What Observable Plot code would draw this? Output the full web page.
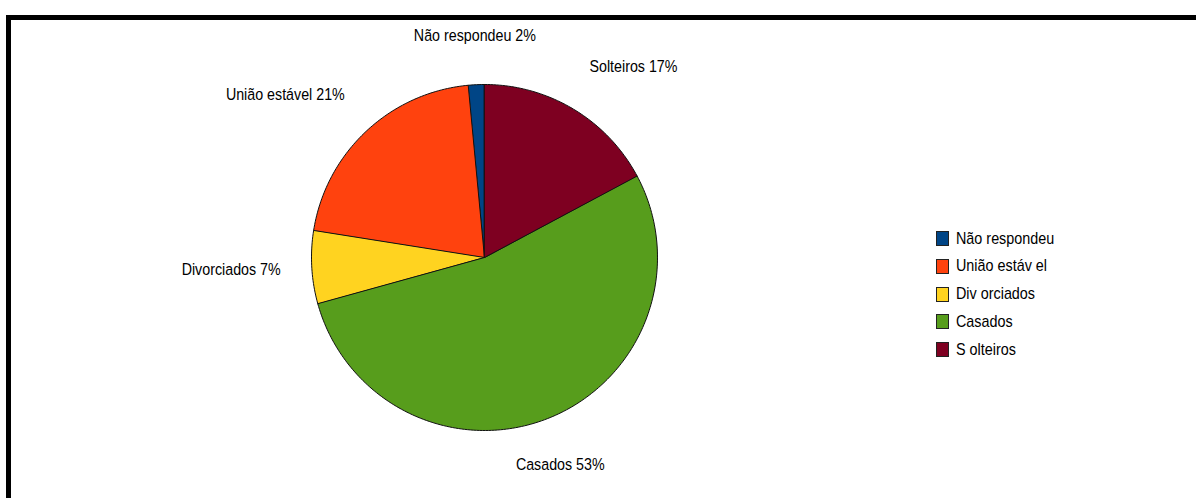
<!DOCTYPE html>
<html><head><meta charset="utf-8">
<script src="https://cdn.jsdelivr.net/npm/d3@7"></script>
<script src="https://cdn.jsdelivr.net/npm/@observablehq/plot@0.6"></script>
<style>
body{margin:0;background:#fff;width:1196px;height:498px;overflow:hidden;position:relative;font-family:"Liberation Sans",Arial,sans-serif;}
#chart{position:absolute;left:0;top:0;}
#border{position:absolute;left:6px;top:15px;right:0;bottom:0;border-top:5px solid #000;border-left:5px solid #000;pointer-events:none;}
#legend{position:absolute;left:936px;top:231px;}
.row{position:absolute;left:0;height:15px;display:flex;align-items:center;white-space:nowrap;font-size:17px;color:#000;}
.sw{width:11px;height:13px;border:1px solid #222;margin-right:7px;flex:none;}
.row span{display:inline-block;transform:scaleX(0.845);transform-origin:0 50%;}
</style></head><body>
<div id="chart"></div><div id="legend"></div><div id="border"></div>
<script>
const categories = ["Não respondeu","União estável","Divorciados","Casados","Solteiros"];
const shares = [1.5, 21.0, 6.8, 53.5, 17.2];
const labelPercents = ["2%","21%","7%","53%","17%"];
const legendLabels = ["Não respondeu","União estáv el","Div orciados","Casados","S olteiros"];
const colors = ["#004586","#ff420e","#ffd320","#579d1c","#7e0021"];

const arcs = d3.pie().sort(null).startAngle(0).endAngle(-2*Math.PI)(shares);

const features = arcs.map((a,i)=>{
  const n = Math.max(2, Math.ceil(Math.abs(a.endAngle-a.startAngle)/(Math.PI/180)));
  const ring=[[0,0]];
  for(let k=0;k<=n;k++){const t=a.startAngle+(a.endAngle-a.startAngle)*k/n; ring.push([Math.sin(t), -Math.cos(t)]);}
  ring.push([0,0]);
  return {type:"Feature", properties:{name:categories[i]}, geometry:{type:"Polygon", coordinates:[ring]}};
});

const labels = arcs.map((a,i)=>{
  const m=(a.startAngle+a.endAngle)/2, sx=Math.sin(m), cy=Math.cos(m);
  return {text:`${categories[i]} ${labelPercents[i]}`, x:1.18*sx, y:-1.25*cy,
    h: Math.abs(sx)<0.4?"middle":(sx<0?"end":"start"),
    v: cy>0.3?"bottom":(cy<-0.3?"top":"middle")};
});
const combos = Array.from(new Set(labels.map(d=>d.h+"|"+d.v)));
const textMarks = combos.map(c=>{
  const [h,v]=c.split("|");
  return Plot.text(labels.filter(d=>d.h===h&&d.v===v),{x:"x",y:"y",text:"text",textAnchor:h,lineAnchor:v,fill:"#000",fontSize:16.5});
});

const chart = Plot.plot({
  width:1196, height:498,
  marginLeft:311, marginRight:539, marginTop:84, marginBottom:68,
  projection:{type:"identity", domain:{type:"MultiPoint",coordinates:[[-1,-1],[1,1]]}, clip:false},
  color:{domain:categories, range:colors},
  style:{fontFamily:'"Liberation Sans",Arial,sans-serif', background:"transparent"},
  marks:[
    Plot.geo(features,{fill:d=>d.properties.name, stroke:"#111", strokeWidth:1}),
    ...textMarks
  ]
});
chart.querySelectorAll("text").forEach(t=>{
  const tr=t.getAttribute("transform")||"";
  t.setAttribute("transform", tr+" scale(0.865,1)");
});
document.getElementById("chart").append(chart);

const legend = document.getElementById("legend");
legendLabels.forEach((lab,i)=>{
  const row=document.createElement("div");
  row.className="row"; row.style.top=(i*27.8)+"px";
  const sw=document.createElement("div"); sw.className="sw"; sw.style.background=colors[i];
  const tx=document.createElement("span"); tx.textContent=lab;
  row.append(sw,tx); legend.append(row);
});
</script>
</body></html>
